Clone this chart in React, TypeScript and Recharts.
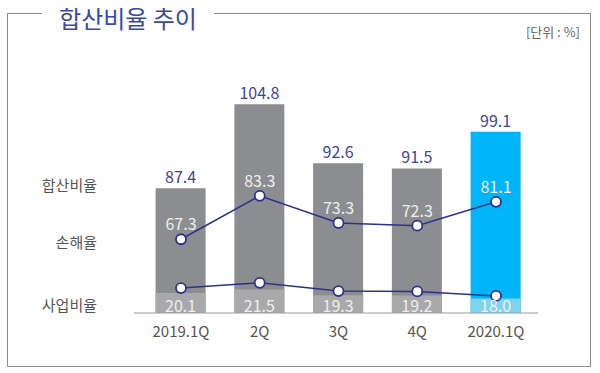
import { ComposedChart, Bar, Line, XAxis, YAxis, Cell, LabelList } from 'recharts';

const categories = ['2019.1Q', '2Q', '3Q', '4Q', '2020.1Q'];
const combinedRatio = [87.4, 104.8, 92.6, 91.5, 99.1];
const lossRatio = [67.3, 83.3, 73.3, 72.3, 81.1];
const expenseRatio = [20.1, 21.5, 19.3, 19.2, 18.0];
const latest = [false, false, false, false, true];

const data = categories.map((quarter, i) => ({
	quarter,
	combined: combinedRatio[i],
	loss: lossRatio[i],
	expense: expenseRatio[i],
}));

const FONT = '"Noto Sans CJK KR", "Noto Sans", sans-serif';
const NAVY = '#2e3188';
const LABEL_BLUE = '#3e4398';
const INNER = '#efefef';
const pad = { left: 7.6, right: 2.6 };

const sideLabel = (text: string, top: number) => (
	<span
		style={{
			position: 'absolute',
			right: 600 - 97,
			top: top - 11,
			fontSize: 15,
			color: '#555',
			lineHeight: '22px',
			whiteSpace: 'nowrap',
		}}
	>
		{text}
	</span>
);

export default function App() {
	return (
		<div
			style={{
				position: 'absolute',
				left: 0,
				top: 0,
				width: 600,
				height: 373,
				background: '#fff',
				fontFamily: FONT,
			}}
		>
			{/* frame */}
			<div
				style={{
					position: 'absolute',
					left: 7,
					top: 13,
					width: 582,
					height: 352,
					border: '1.5px solid #8c8c8c',
				}}
			/>
			<span
				style={{
					position: 'absolute',
					left: 42,
					top: 1,
					width: 172,
					height: 34,
					background: '#fff',
					color: '#3a4aa0',
					fontSize: 24,
					lineHeight: '34px',
					textAlign: 'center',
					whiteSpace: 'nowrap',
				}}
			>
				합산비율 추이
			</span>
			<span
				style={{
					position: 'absolute',
					right: 20,
					top: 22,
					fontSize: 13,
					color: '#666',
					lineHeight: '20px',
				}}
			>
				[단위 : %]
			</span>
			{sideLabel('합산비율', 185)}
			{sideLabel('손해율', 242)}
			{sideLabel('사업비율', 305)}

			<div style={{ position: 'absolute', left: 0, top: 0 }}>
				<ComposedChart
					width={600}
					height={373}
					data={data}
					margin={{ top: 60, right: 62, bottom: 30, left: 134 }}
				>
					<XAxis
						xAxisId="main"
						dataKey="quarter"
						height={30}
						padding={pad}
						axisLine={{ stroke: '#9a9a9a' }}
						tickLine={false}
						tickMargin={7}
						tick={{ fill: '#555', fontSize: 15, fontFamily: FONT }}
					/>
					<XAxis xAxisId="sub" dataKey="quarter" hide padding={pad} />
					<YAxis yAxisId="total" hide domain={[61.5, 114]} allowDataOverflow />
					<YAxis yAxisId="seg" hide domain={[12.3, 111.5]} allowDataOverflow />
					<YAxis yAxisId="loss" hide domain={[40.1, 133.4]} allowDataOverflow />
					<YAxis yAxisId="exp" hide domain={[13.4, 81.4]} allowDataOverflow />

					<Bar
						xAxisId="main"
						yAxisId="total"
						dataKey="combined"
						barSize={50}
						isAnimationActive={false}
					>
						{data.map((d, i) => (
							<Cell key={d.quarter} fill={latest[i] ? '#00b5f7' : '#8c8d90'} />
						))}
						<LabelList
							dataKey="combined"
							position="top"
							offset={5}
							fill={LABEL_BLUE}
							fontSize={16}
							fontFamily={FONT}
						/>
					</Bar>
					<Bar
						xAxisId="sub"
						yAxisId="seg"
						dataKey="expense"
						barSize={50}
						isAnimationActive={false}
					>
						{data.map((d, i) => (
							<Cell key={d.quarter} fill={latest[i] ? '#80d3ef' : '#a9a9ab'} />
						))}
						<LabelList
							dataKey="expense"
							position="insideBottom"
							offset={1}
							fill={INNER}
							fontSize={16}
							fontFamily={FONT}
							formatter={(v: number) => v.toFixed(1)}
						/>
					</Bar>
					<Line
						xAxisId="main"
						yAxisId="loss"
						dataKey="loss"
						type="linear"
						stroke={NAVY}
						strokeWidth={1.5}
						dot={{ r: 5, fill: '#fff', stroke: NAVY, strokeWidth: 1.8 }}
						isAnimationActive={false}
					>
						<LabelList
							dataKey="loss"
							position="top"
							offset={9}
							fill={INNER}
							fontSize={16}
							fontFamily={FONT}
						/>
					</Line>
					<Line
						xAxisId="main"
						yAxisId="exp"
						dataKey="expense"
						type="linear"
						stroke={NAVY}
						strokeWidth={1.5}
						dot={{ r: 5, fill: '#fff', stroke: NAVY, strokeWidth: 1.8 }}
						isAnimationActive={false}
					/>
				</ComposedChart>
			</div>
		</div>
	);
}
